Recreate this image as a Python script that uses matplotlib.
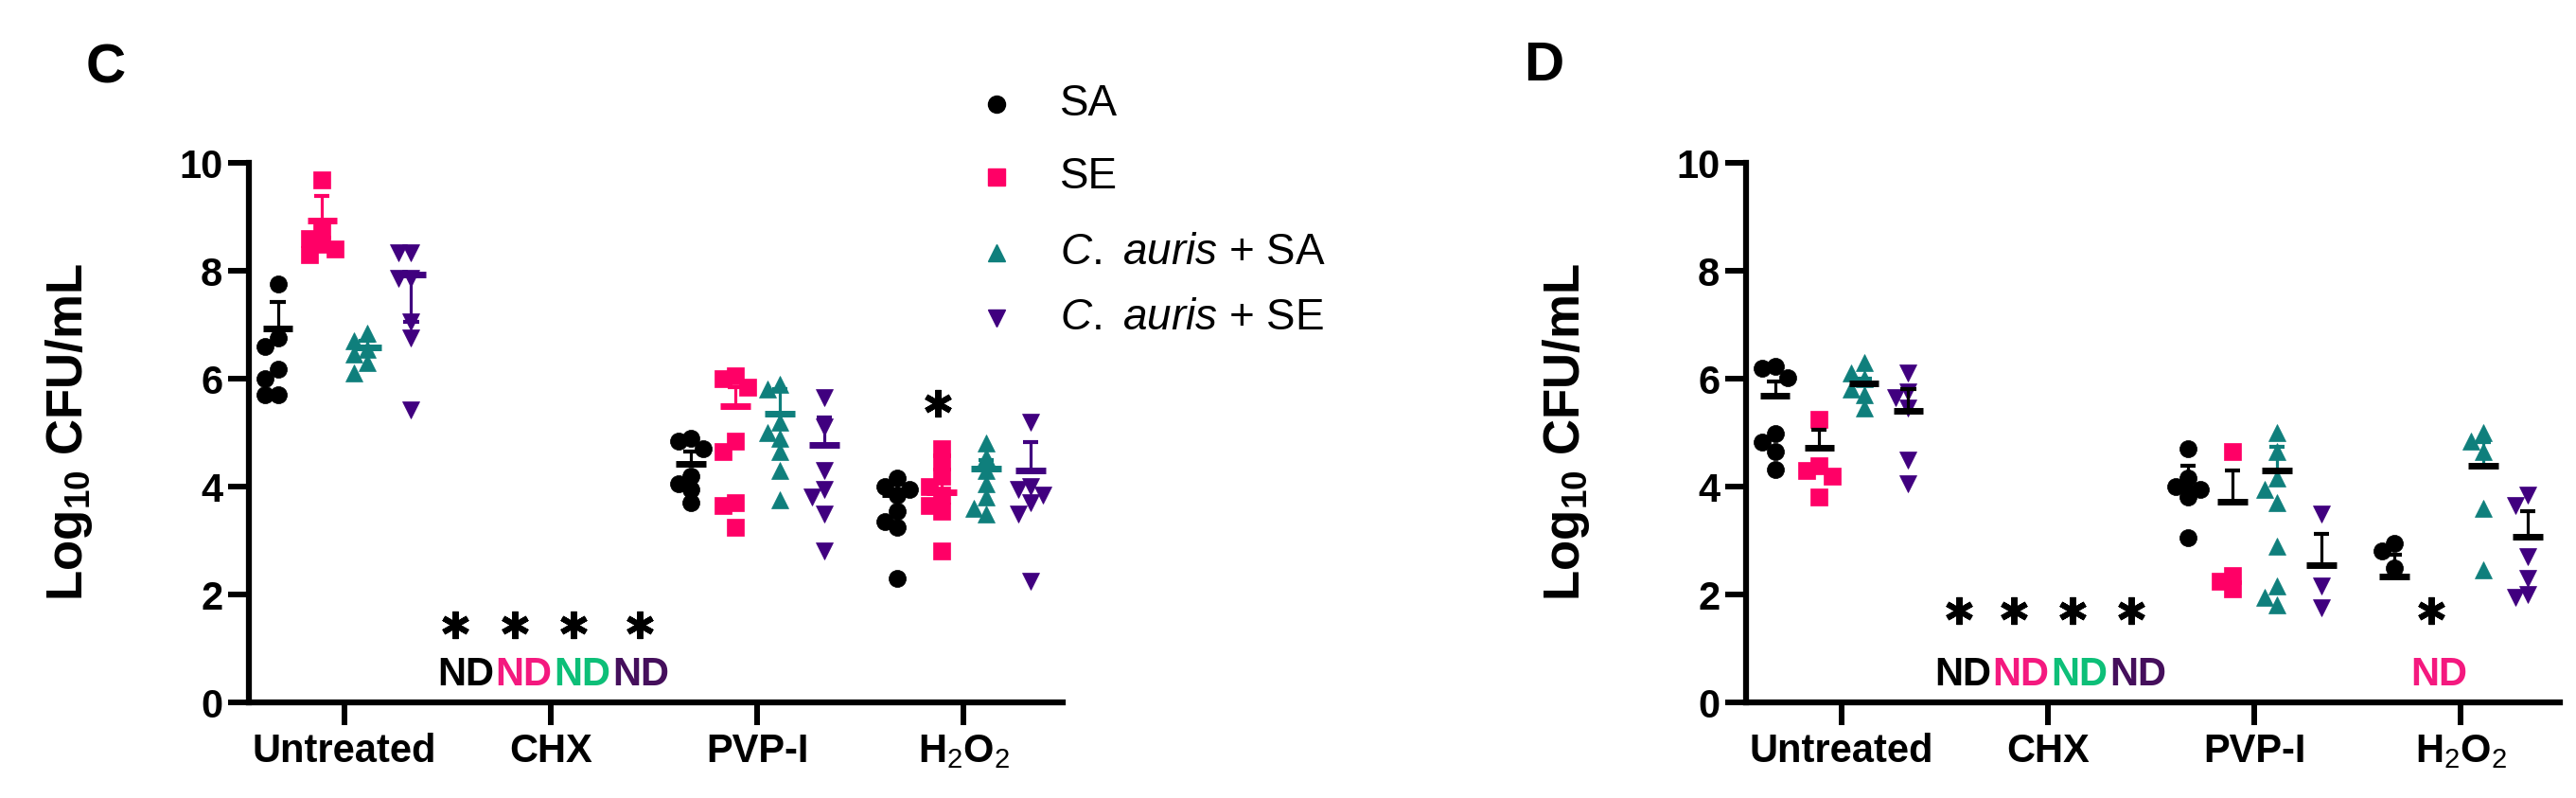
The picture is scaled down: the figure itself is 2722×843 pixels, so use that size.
import matplotlib.pyplot as plt

plt.rcParams['font.family'] = ['Liberation Sans', 'DejaVu Sans']
plt.rcParams['mathtext.fontset'] = 'custom'
plt.rcParams['mathtext.rm'] = 'Liberation Sans'
plt.rcParams['mathtext.bf'] = 'Liberation Sans:bold'
plt.rcParams['mathtext.it'] = 'Liberation Sans:italic'

# =========================
# Data (Log10 CFU/mL), None = not detected
# order of treatments: Untreated, CHX, PVP-I, H2O2
# =========================
treatments = ["Untreated", "CHX", "PVP-I", r"H$_\mathrm{2}$O$_\mathrm{2}$"]
series = ["SA", "SE", r"$\mathit{C.}$ $\mathit{auris}$ + SA", r"$\mathit{C.}$ $\mathit{auris}$ + SE"]
colors = ["#000000", "#FF0066", "#0F7F7C", "#40007F"]
nd_colors = ["#000000", "#F4197F", "#0DBF78", "#450F5C"]
markers = ["o", "s", "^", "v"]

# ---- panel C ----
c_sa = [[7.75, 6.75, 6.6, 6.17, 6.0, 5.7, 5.7], None,
        [4.9, 4.85, 4.7, 4.2, 4.05, 3.95, 3.7],
        [4.15, 4.0, 3.95, 3.85, 3.55, 3.35, 3.25, 2.3]]
c_se = [[9.68, 8.75, 8.6, 8.5, 8.4, 8.3], None,
        [6.05, 6.0, 5.85, 4.85, 4.65, 3.7, 3.65, 3.25],
        [4.7, 4.45, 4.2, 4.0, 3.85, 3.65, 3.55, 2.8]]
c_casa = [[6.85, 6.7, 6.55, 6.45, 6.3, 6.1], None,
          [5.9, 5.8, 5.2, 5.0, 4.9, 4.65, 4.3, 3.75],
          [4.8, 4.55, 4.3, 4.05, 3.8, 3.6, 3.5]]
c_case = [[8.33, 8.33, 7.86, 7.86, 7.05, 6.75, 5.42], None,
          [5.65, 5.1, 4.3, 3.95, 3.8, 3.5, 2.8],
          [5.2, 4.0, 3.95, 3.85, 3.7, 3.5, 2.25]]
c_mean = [[6.93, None, 4.42, 3.86],
          [8.93, None, 5.5, 3.9],
          [6.58, None, 5.35, 4.33],
          [7.93, None, 4.77, 4.3]]
c_err = [[7.42, None, 4.65, 4.05],
         [9.38, None, 5.85, 4.15],
         [6.7, None, 5.8, 4.5],
         [7.05, None, 5.28, 4.83]]

# ---- panel D ----
d_sa = [[6.22, 6.2, 6.02, 4.98, 4.82, 4.65, 4.32], None,
        [4.7, 4.15, 4.0, 3.95, 3.8, 3.05],
        [2.95, 2.8, 2.5]]
d_se = [[5.25, 4.38, 4.3, 4.2, 3.8], None,
        [4.65, 2.35, 2.25, 2.1],
        None]
d_casa = [[6.3, 6.1, 6.0, 5.8, 5.7, 5.45], None,
          [5.0, 4.65, 4.15, 3.95, 3.7, 2.9, 2.15, 1.95, 1.8],
          [5.0, 4.85, 4.65, 3.6, 2.45]]
d_case = [[6.1, 5.75, 5.65, 5.45, 4.5, 4.05], None,
          [3.5, 2.15, 1.75],
          [3.85, 3.65, 2.7, 2.3, 2.0, 1.95]]
d_mean = [[5.68, None, 3.96, 2.33],
          [4.72, None, 3.72, None],
          [5.91, None, 4.3, 4.39],
          [5.4, None, 2.55, 3.07]]
d_err = [[5.95, None, 4.39, 2.74],
         [5.05, None, 4.3, None],
         [6.0, None, 4.74, 4.83],
         [5.8, None, 3.13, 3.54]]

# =========================
# Layout
# =========================
W, H = 2722, 843
SER_OFF = [-0.323, -0.108, 0.108, 0.323]
ND_OFF = [-0.412, -0.13, 0.15, 0.438]


def spread(vals, x0, dy=0.22, dx=0.06):
    # simple dodge of overlapping points (like a scatter dot plot)
    placed, xs = [], []
    for v in vals:
        for off in (0, -dx, dx, -2 * dx, 2 * dx):
            x = x0 + off
            if all(abs(v - pv) >= dy or abs(x - px) > dx * 0.5 for pv, px in placed):
                break
        placed.append((v, x))
        xs.append(x)
    return xs


def draw_panel(ax, data, means, errs, err_cols, mean_cols):
    for s, vals_by_t in enumerate(data):
        for t, vals in enumerate(vals_by_t):
            if vals is None:
                continue
            x0 = t + SER_OFF[s]
            ax.plot(spread(vals, x0), vals, linestyle="none", marker=markers[s],
                    ms=13, color=colors[s], mec=colors[s], mew=0.5, zorder=3,
                    clip_on=False)
    for s in range(4):
        for t in range(4):
            m, e = means[s][t], errs[s][t]
            if m is None:
                continue
            x0 = t + SER_OFF[s]
            ec = err_cols[s]
            ax.vlines(x0, min(m, e), max(m, e), color=ec, lw=2.3, zorder=4)
            ax.hlines(e, x0 - 0.037, x0 + 0.037, color=ec, lw=3, zorder=4)
            ax.hlines(m, x0 - 0.073, x0 + 0.073, color=mean_cols[s], lw=5, zorder=5)

    ax.set_xlim(-0.463, 3.48)
    ax.set_ylim(0, 10)
    ax.set_yticks([0, 2, 4, 6, 8, 10])
    ax.set_xticks(range(4))
    ax.set_xticklabels(treatments)
    for sp in ["top", "right"]:
        ax.spines[sp].set_visible(False)
    for sp in ["left", "bottom"]:
        ax.spines[sp].set_linewidth(4.5)
    ax.tick_params(axis="y", length=16, width=4.3, labelsize=30, pad=4)
    ax.tick_params(axis="x", length=17, width=4.3, labelsize=30, pad=6)
    for lab in ax.get_xticklabels() + ax.get_yticklabels():
        lab.set_fontweight("bold")
    ax.set_ylabel(r"Log$_{\mathbf{10}}$ CFU/mL", fontsize=38, fontweight="bold")
    ax.yaxis.set_label_coords(-0.19, 0.5)

    # not detected labels (CHX)
    for s in range(4):
        ax.text(1 + ND_OFF[s], 0.5, "ND", color=nd_colors[s], fontsize=30,
                fontweight="bold", ha="center", va="center")


def star(ax, x, y):
    ax.plot([x], [y], marker=(6, 2, 0), ms=21, mew=4.3, color="black",
            linestyle="none", zorder=6)


fig = plt.figure(figsize=(W / 100, H / 100), dpi=100)
ax_c = fig.add_axes([263 / W, 1 - 742 / H, 860 / W, 570 / H])
ax_d = fig.add_axes([1845 / W, 1 - 742 / H, 860 / W, 570 / H])

draw_panel(ax_c, [c_sa, c_se, c_casa, c_case], c_mean, c_err,
           colors, colors)
draw_panel(ax_d, [d_sa, d_se, d_casa, d_case], d_mean, d_err,
           ["#000000", "#000000", colors[2], "#000000"], ["#000000"] * 4)

# asterisks
for off in [-0.463, -0.174, 0.110, 0.431]:
    star(ax_c, 1 + off, 1.44)
star(ax_c, 3 - 0.124, 5.55)
for off in [-0.431, -0.165, 0.119, 0.404]:
    star(ax_d, 1 + off, 1.7)
star(ax_d, 3 - 0.142, 1.7)
ax_d.text(3 - 0.106, 0.5, "ND", color=nd_colors[1], fontsize=30,
          fontweight="bold", ha="center", va="center")

# legend
leg_y = [110, 187, 267, 336]
for s in range(4):
    ax_c.plot([1053 / W], [1 - leg_y[s] / H], marker=markers[s], ms=13,
              color=colors[s], linestyle="none", transform=fig.transFigure,
              clip_on=False)
    fig.text(1120 / W, 1 - leg_y[s] / H, series[s], fontsize=33,
             ha="left", va="center")

# panel letters
fig.text(112 / W, 1 - 72 / H, "C", fontsize=42, fontweight="bold",
         ha="center", va="center")
fig.text(1631 / W, 1 - 70 / H, "D", fontsize=42, fontweight="bold",
         ha="center", va="center")

plt.savefig("out.png", dpi=100)
